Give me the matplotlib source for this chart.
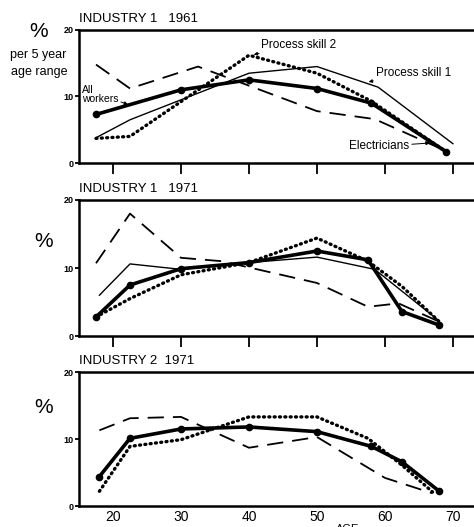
import matplotlib
matplotlib.use("Agg")
import matplotlib.pyplot as plt

plt.rcParams['font.family'] = ['Liberation Sans', 'DejaVu Sans']

# ages (mid points of age groups) and percentages
# panel 1: industry 1, 1961
p1_all_age = [17.5, 30, 40, 50, 58, 69]
p1_all = [7.3, 11.0, 12.5, 11.2, 9.0, 1.7]
p1_ps1_age = [17.5, 22.5, 40, 50, 59, 70]
p1_ps1 = [3.8, 6.5, 13.5, 14.5, 11.4, 2.9]
p1_ps2_age = [17.5, 22.5, 40, 50, 58, 69]
p1_ps2 = [3.7, 4.0, 16.2, 13.5, 9.3, 1.7]
p1_el_age = [17.5, 22.5, 32.5, 50, 58.5, 69]
p1_el = [14.8, 11.2, 14.5, 7.8, 6.6, 1.8]

# panel 2: industry 1, 1971
p2_all_age = [17.5, 22.5, 30, 40, 50, 57.5, 62.5, 68]
p2_all = [2.8, 7.5, 9.9, 10.8, 12.5, 11.2, 3.6, 1.6]
p2_ps1_age = [18, 22.5, 30, 40, 50, 58.5, 68]
p2_ps1 = [6.0, 10.6, 9.8, 10.8, 11.6, 9.8, 2.2]
p2_ps2_age = [17.5, 22.5, 30, 40, 50, 57.5, 62.5, 68]
p2_ps2 = [2.8, 5.5, 9.0, 10.8, 14.4, 11.0, 7.3, 2.1]
p2_el_age = [17.5, 22.5, 30, 36, 50, 57.5, 62, 68]
p2_el = [10.7, 18.0, 11.5, 11.0, 7.8, 4.3, 4.8, 2.1]

# panel 3: industry 2, 1971
p3_all_age = [18, 22.5, 30, 40, 50, 58, 62.5, 68]
p3_all = [4.4, 10.1, 11.5, 11.8, 11.1, 8.9, 6.6, 2.2]
p3_ps2_age = [18, 22.5, 30, 40, 50, 57.5, 62.5, 67]
p3_ps2 = [2.2, 8.9, 9.9, 13.3, 13.3, 10.1, 6.1, 2.1]
p3_el_age = [18, 22.5, 30, 40, 50, 60, 67]
p3_el = [11.3, 13.1, 13.3, 8.7, 10.3, 4.2, 1.9]

x_ticks = [20, 30, 40, 50, 60, 70]
x_labels = ['20', '30', '40', '50', '60', '70']
y_ticks = [0, 10, 20]
titles = ['INDUSTRY 1   1961', 'INDUSTRY 1   1971', 'INDUSTRY 2  1971']

fig = plt.figure(figsize=(4.74, 5.27), dpi=100)
boxes = [[0.1667, 0.6907, 0.8333, 0.2524],
         [0.1667, 0.3624, 0.8333, 0.2581],
         [0.1667, 0.0398, 0.8333, 0.2543]]
axes = [fig.add_axes(b) for b in boxes]


def thick(ax, x, y):
    ax.plot(x, y, color='black', lw=2.6, marker='o', ms=4.5, solid_capstyle='round', zorder=5)


def thin(ax, x, y):
    ax.plot(x, y, color='black', lw=1.0, zorder=4)


def dots(ax, x, y):
    ax.plot(x, y, color='black', lw=2.4, linestyle=(0, (0.3, 1.3)), dash_capstyle='round', zorder=3)


def dashes(ax, x, y):
    ax.plot(x, y, color='black', lw=1.3, linestyle=(0, (9, 5)), zorder=2)


thick(axes[0], p1_all_age, p1_all)
thin(axes[0], p1_ps1_age, p1_ps1)
dots(axes[0], p1_ps2_age, p1_ps2)
dashes(axes[0], p1_el_age, p1_el)

thick(axes[1], p2_all_age, p2_all)
thin(axes[1], p2_ps1_age, p2_ps1)
dots(axes[1], p2_ps2_age, p2_ps2)
dashes(axes[1], p2_el_age, p2_el)

thick(axes[2], p3_all_age, p3_all)
dots(axes[2], p3_ps2_age, p3_ps2)
dashes(axes[2], p3_el_age, p3_el)

for i, ax in enumerate(axes):
    ax.set_xlim(15.0, 73.1)
    ax.set_ylim(0, 20)
    ax.spines['right'].set_visible(False)
    for s in ['left', 'bottom', 'top']:
        ax.spines[s].set_linewidth(1.8)
    ax.set_xticks(x_ticks)
    ax.set_yticks(y_ticks)
    ax.tick_params(axis='y', direction='out', length=3, width=1.3, labelsize=6.5, pad=1)
    ax.set_yticklabels([str(v) for v in y_ticks], fontweight='bold')
    if i < 2:
        ax.tick_params(axis='x', direction='out', length=8, width=1.3)
        ax.set_xticklabels([])
    else:
        ax.tick_params(axis='x', length=0, pad=3)
        ax.set_xticklabels(x_labels, fontsize=10)
    ax.text(0.0, 1.04, titles[i], transform=ax.transAxes, fontsize=9.5, va='bottom', ha='left')

# y axis labels
fig.text(0.081, 0.940, '%', fontsize=15, ha='center', va='center')
fig.text(0.081, 0.896, 'per 5 year', fontsize=9, ha='center', va='center')
fig.text(0.083, 0.863, 'age range', fontsize=9, ha='center', va='center')
fig.text(0.091, 0.541, '%', fontsize=15, ha='center', va='center')
fig.text(0.091, 0.226, '%', fontsize=15, ha='center', va='center')

fig.text(0.733, -0.004, 'AGE', fontsize=8, ha='center', va='center')

arrow = dict(arrowstyle='-|>', lw=0.7, color='black', mutation_scale=5, shrinkA=0, shrinkB=0)
ax = axes[0]
ax.annotate('Process skill 2', xy=(40.7, 16.3), xytext=(41.7, 17.8), fontsize=8.5,
            va='center', ha='left', arrowprops=arrow)
ax.annotate('Process skill 1', xy=(57.6, 12.2), xytext=(58.7, 13.6), fontsize=8.5,
            va='center', ha='left', arrowprops=arrow)
ax.annotate('Electricians', xy=(66.6, 3.0), xytext=(54.7, 2.5), fontsize=8.5,
            va='center', ha='left', arrowprops=arrow)
ax.annotate('All\nworkers', xy=(22.2, 8.8), xytext=(15.4, 10.3), fontsize=7.5,
            va='center', ha='left', linespacing=0.85, arrowprops=arrow)

fig.savefig('out.png', dpi=100)
